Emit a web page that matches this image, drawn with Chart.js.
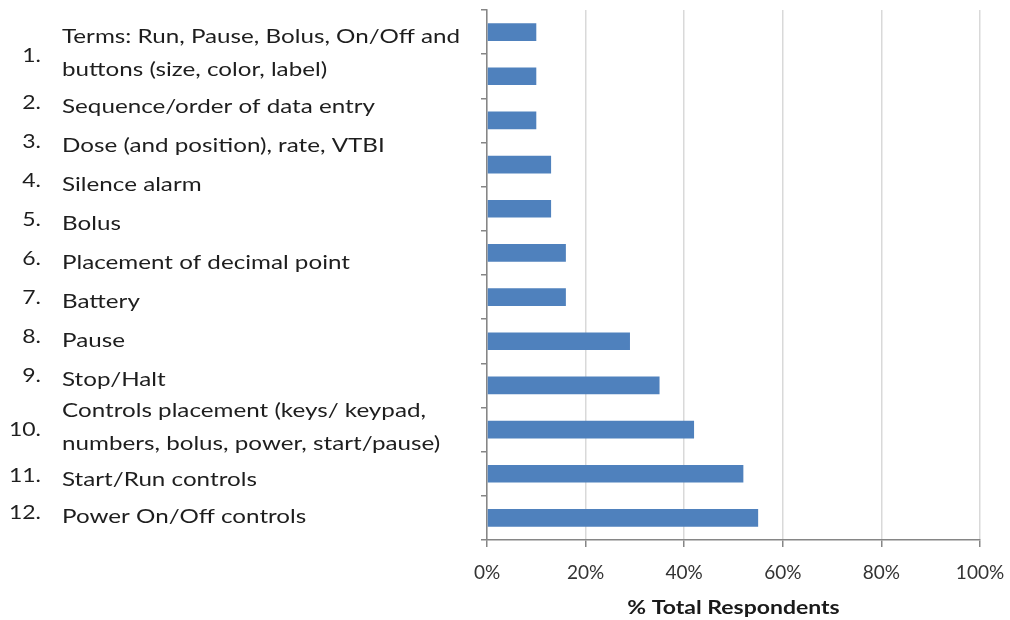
<!DOCTYPE html>
<html>
<head>
<meta charset="utf-8">
<script src="https://cdn.jsdelivr.net/npm/chart.js@4.4.0/dist/chart.umd.min.js"></script>
<style>
  html, body { margin: 0; padding: 0; background: #ffffff; }
  #wrap { width: 1010px; height: 620px; position: relative; }
</style>
</head>
<body>
<div id="wrap"><canvas id="c" width="1010" height="620"></canvas></div>
<script>
// Survey items, listed top to bottom
const itemNumbers = ['1.', '2.', '3.', '4.', '5.', '6.', '7.', '8.', '9.', '10.', '11.', '12.'];
const itemLabels = [
  ['Terms: Run, Pause, Bolus, On/Off and', 'buttons (size, color, label)'],
  ['Sequence/order of data entry'],
  ['Dose (and position), rate, VTBI'],
  ['Silence alarm'],
  ['Bolus'],
  ['Placement of decimal point'],
  ['Battery'],
  ['Pause'],
  ['Stop/Halt'],
  ['Controls placement (keys/ keypad,', 'numbers, bolus, power, start/pause)'],
  ['Start/Run controls'],
  ['Power On/Off controls']
];
// Share of respondents naming each item (%)
const respondentPct = [10, 10, 10, 13, 13, 16, 16, 29, 35, 42, 52, 55];
// Percentage axis
const xTickValues = [0, 20, 40, 60, 80, 100];
const xAxisTitle = '% Total Respondents';

const LABEL_FONT = '"Lato", "DejaVu Sans", sans-serif';
const STRETCH = 1.21;   // text set slightly wide, as in the slide layout

// Numbered list drawn in the left margin, one text baseline per line
const listLayout = {
  textX: 62,
  numberRight: 41,
  baselines: [[43, 76], [113], [152], [191], [230], [269], [308], [347], [386], [417, 450], [486], [523]]
};

function wideText(ctx, text, x, y) {
  ctx.save();
  ctx.scale(STRETCH, 1);
  ctx.fillText(text, x / STRETCH, y);
  ctx.restore();
}

const numberedList = {
  id: 'numberedList',
  afterDraw(chart) {
    const ctx = chart.ctx;
    ctx.save();
    ctx.fillStyle = '#1e1e1e';
    ctx.textBaseline = 'alphabetic';
    itemLabels.forEach((lines, i) => {
      const bl = listLayout.baselines[i];
      ctx.font = '20px ' + LABEL_FONT;
      ctx.textAlign = 'left';
      lines.forEach((line, j) => wideText(ctx, line, listLayout.textX, bl[j]));
      const numY = bl.length > 1 ? (bl[0] + bl[bl.length - 1]) / 2 + 2 : bl[0] - 4;
      ctx.font = '19px ' + LABEL_FONT;
      ctx.textAlign = 'right';
      wideText(ctx, itemNumbers[i], listLayout.numberRight, numY);
    });

    // axis title under the percentage ticks
    const area = chart.chartArea;
    ctx.font = 'bold 19px ' + LABEL_FONT;
    ctx.textAlign = 'center';
    ctx.fillStyle = '#1a1a1a';
    wideText(ctx, xAxisTitle, (area.left + area.right) / 2, chart.height - 6);
    ctx.restore();
  }
};

new Chart(document.getElementById('c'), {
  type: 'bar',
  data: {
    labels: itemNumbers,
    datasets: [{
      data: respondentPct,
      backgroundColor: '#4f81bd',
      borderWidth: 0,
      barPercentage: 0.4,
      categoryPercentage: 1.0
    }]
  },
  options: {
    indexAxis: 'y',
    responsive: false,
    animation: false,
    devicePixelRatio: 1,
    layout: { padding: { left: 480, right: 30, top: 10, bottom: 0 } },
    plugins: {
      legend: { display: false },
      tooltip: { enabled: false }
    },
    scales: {
      x: {
        type: 'linear',
        min: 0,
        max: 100,
        afterBuildTicks(scale) { scale.ticks = xTickValues.map(v => ({ value: v })); },
        afterFit(scale) {
          scale.height = 80;
          scale.paddingLeft = 0;
          scale.paddingRight = 0;
        },
        ticks: {
          callback: v => v + '%',
          color: '#333333',
          padding: 14,
          font: { family: LABEL_FONT, size: 19 }
        },
        grid: {
          color: '#d9d9d9',
          lineWidth: 1.5,
          tickColor: '#868686',
          tickLength: 7
        },
        border: { color: '#868686', width: 1.5 },
        title: { display: false }
      },
      y: {
        type: 'category',
        offset: true,
        afterFit(scale) { scale.width = 7; },
        ticks: { display: false },
        grid: {
          offset: true,
          drawOnChartArea: false,
          drawTicks: true,
          tickLength: 6,
          tickColor: '#868686',
          color: '#868686',
          lineWidth: 1.5
        },
        border: { color: '#868686', width: 1.5 }
      }
    }
  },
  plugins: [numberedList]
});
</script>
</body>
</html>
